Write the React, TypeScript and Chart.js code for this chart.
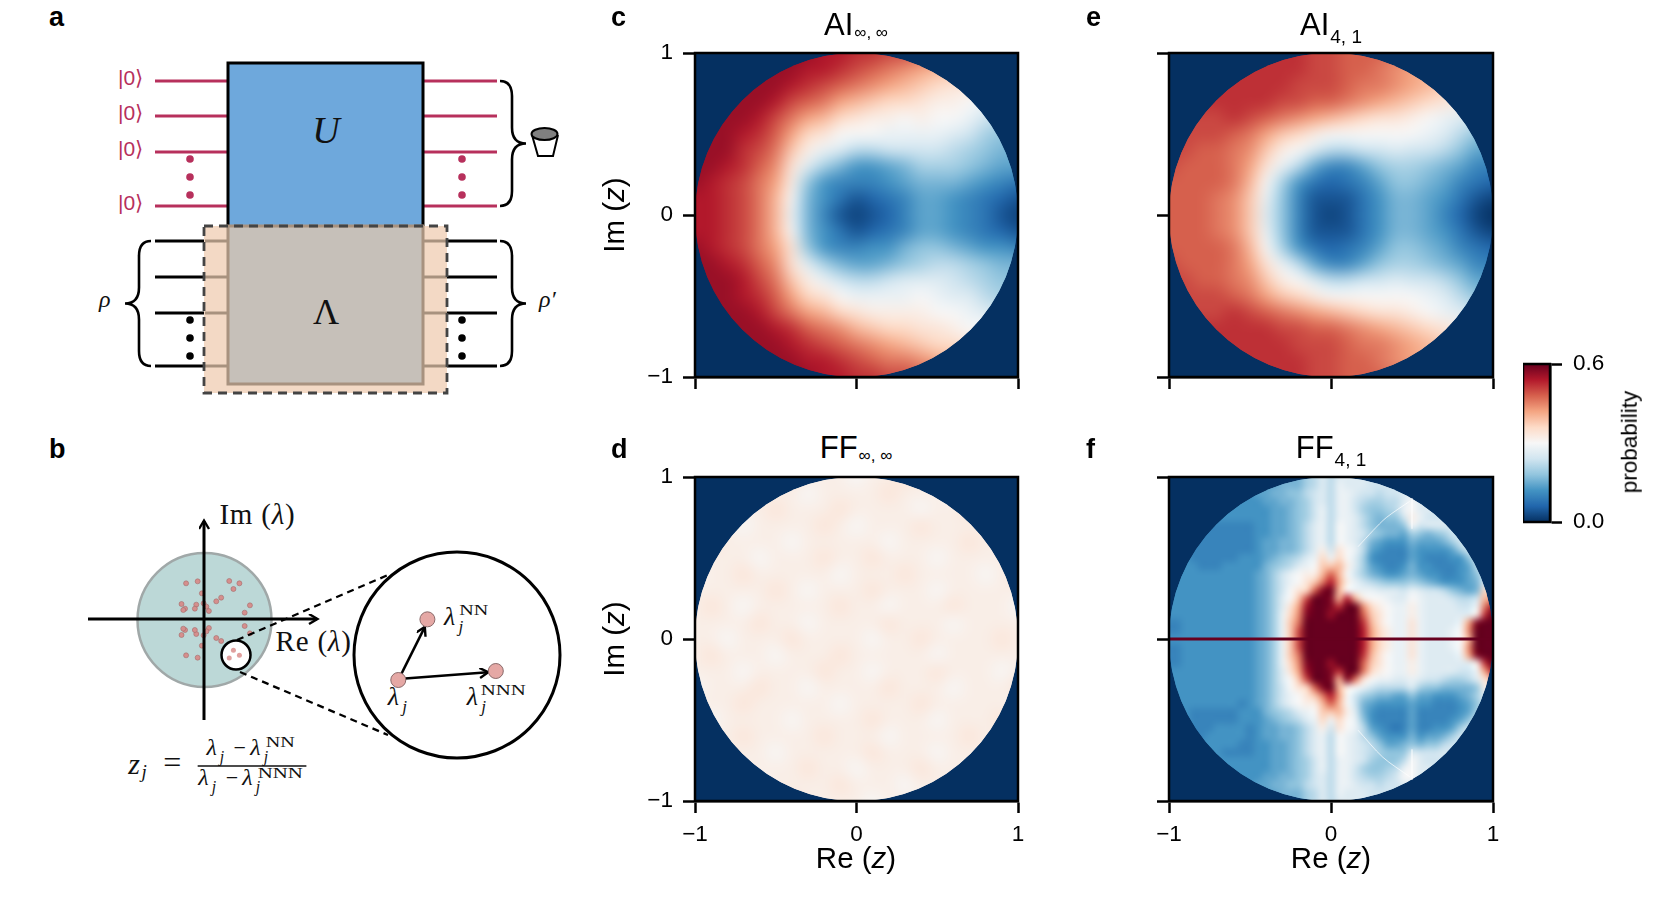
import React, { useEffect, useRef } from "react";
import { Chart, registerables } from "chart.js";

Chart.register(...registerables);

// Probability grids. Each char is a base-36 level, one level = 0.02.
// Rows run from Im(z)=+1 down to -1, columns from Re(z)=-1 to +1.
const levelSize = 0.02;

const aiInfInfRows = [
  "ssssssssrrqqppoonnmmm",
  "sssssssrrqponmlkkkkkk",
  "ssssssrqponmlkjihhhhh",
  "sssssrponlkjiihggfeee",
  "ssssrpnlkihggfgffecbb",
  "sssrqolihfffeeeedca99",
  "sssqpnjgedbbccccba988",
  "ssrqomhda86678aaa9877",
  "srqpnlg96555678887654",
  "rrqpnkf86423457765432",
  "rrqpnke85212357765421",
  "rrqpnkf86423457765432",
  "srqpnlh96556689987665",
  "ssrqomhda87789abba988",
  "sssrpnjgecbbcdddcba99",
  "sssrqolihfeeeefeddbaa",
  "ssssrpnlkihggggffedcc",
  "sssssrqonmkjiihhgffee",
  "ssssssrqponmlkjiihhhh",
  "sssssssrrqponnmlkkkkk",
  "ssssssssrrqqppoonnmmm",
];

const aiFourOneRows = [
  "qqqqqqqqqppooonnmmmmm",
  "qqqqqqqqqppoonmlkkkkk",
  "qqqqqqqqppponnmlkjiii",
  "qqqqqqqppoonmlkjihgff",
  "ppppqponmlkjihhgfedcc",
  "pppponljigffffffedb99",
  "ppoonmjgfdbbccdccb977",
  "pooonlheb75579aa98755",
  "oooonkfa6434579987543",
  "ooonmje95222468876421",
  "ooonmjd95212468875310",
  "ooonmje95222468876421",
  "oooonkfa6434579987543",
  "pooonlheb75579aa98755",
  "ppoonmjgfdbbccdccb977",
  "pppponljigffffffedb99",
  "ppppqponmlkjihhgfedcc",
  "qqqqqqqppoonmlkjihgff",
  "qqqqqqqqppponnmlkjiii",
  "qqqqqqqqqppoonmlkkkkk",
  "qqqqqqqqqppooonnmmmmm",
];

const ffInfInfRows = [
  "gggggghgggfgghgggfggg",
  "ggghgggfgggghgggfgggh",
  "gfggghggghggggfgghggg",
  "gggfgggghgfggghgggggf",
  "ghggggfgggggfgggghggg",
  "ggggfggghgghgggfggggg",
  "fgghgggggfggghggggfgh",
  "ggggghgfggghgggfggggg",
  "ghgfggggghggfggghgggf",
  "gggghggfgggghgggfgggg",
  "ggfggghggggfgghgggghg",
  "ghgggfggghgggggfggggg",
  "gggfgggghggfggghgggfg",
  "fggghggfgggghgggfgggh",
  "ggghgggggfgggghgggggf",
  "gfggggfgggghgggfggghg",
  "ggghgggghgggfgggghggg",
  "gggggfggggghgggfggggg",
  "gghgggghggfggghgggghg",
  "ggggfgggghgggfggggggg",
  "gggggghggggfgggghgggg",
];

const ffFourOneRows = [
  "7777777777 7777888abd bddddccccc ccccccccccc",
  "7777777777 7777888abd bedddccccc ccccccccccc",
  "6666666666 6778899bcd beedccbccd dcccccccccc",
  "6666666666 6677889acd beecbaabbd fddcccccccc",
  "6666666666 6667789ace beeca99abe fddcbbbbbbb",
  "6666666666 6667789ace beedb9899c gecccbbbbbb",
  "6666655555 5667789bde bfedb98889 fcdddcccccc",
  "6666555555 5667789bde bfedca9887 a989acccccc",
  "6665555555 5677889bde bfedb87666 87778accccc",
  "6665555555 5677889bdg chfeb76555 766667acccc",
  "6665555556 66789abdei eifda65555 76555669ccc",
  "6666555666 6689abdefj jkgda76556 8665556 7bdd",
  "6666666666 678acefggk okfca87667 87665567 9cc",
  "6666666666 678acefhjn rlgecba999 a987666 78dd",
  "6666666666 678acfhiot ukfeeedddc edccb9878ii",
  "6666666666 678adfjpuu tkrkgffedd fedddcbbckl",
  "6666666666 678adhlsuu tquumigfee geddddccens",
  "6666666666 678aeimtuu suuuojhfee geddddddgqu",
  "5566666666 678aejnuuu uuuuqkhfee heddddeltuu",
  "5566666666 678aejpuuu uuuurligee hedddefmuuu",
  "6666666666 678aejpuuu uuuurligee hedddefkuuu",
  "5566666666 678aejpuuu uuuurligee hedddefmuuu",
  "5566666666 678aejnuuu uuuuqkhfee heddddeltuu",
  "5566666666 678aeimtuu suuuojhfee geddddddgqu",
  "6666666666 678adhlsuu tquunigfee geddddccelr",
  "6666666666 678adfjpuu tktnhfeedd edccbaabdhk",
  "6666666666 678acfhiot ukgfecbbbb da998888 9gg",
  "6666666666 678acefhjn rlfca98877 97766678add",
  "6666666665 678acefggk okfc876666 766555679cc",
  "6665555556 6689abdefj jkgd865555 75555567acc",
  "6665555556 66789abdei eife965555 75555679ccc",
  "6665556666 5677889bdg chfeb76545 755667acccc",
  "6665566666 5677889bde bfedb97666 86778accccc",
  "6666666665 5667789bde bfedcb9778 9899bcccccc",
  "6666666555 5667789bde bfedcba999 dcccdcccccc",
  "6666666666 6667789ace beedca999b fdccccbbbbb",
  "6666666666 6667789ace beeca99abe fddcbbbbbbb",
  "6666666666 6677889acd beecbaabcf fddcccccccc",
  "6666666666 6778899bcd beedccbccd dcccccccccc",
  "7777777777 7777888abd bedddccccc ccccccccccc",
  "7777777777 7777888abd bddddccccc ccccccccccc",
];

// Thin features of panel f.
const realAxisRe = [-1, 1];
const realAxisIm = [0, 0];
const arcUpperRe = [0.167, 0.26, 0.342, 0.486];
const arcUpperIm = [0.57, 0.67, 0.75, 0.85];
const arcLowerRe = [0.167, 0.32, 0.486];
const arcLowerIm = [-0.563, -0.73, -0.85];
const halfLineUpperRe = [0.5, 0.5];
const halfLineUpperIm = [0.87, 0.68];
const halfLineLowerRe = [0.5, 0.5];
const halfLineLowerIm = [-0.68, -0.87];

const axisTicks = [-1, 0, 1];
const colorbarRange = [0, 0.6];
const cmapStops = ["#053061", "#2166ac", "#4393c3", "#92c5de", "#d1e5f0", "#f7f7f7", "#fddbc7", "#f4a582", "#d6604d", "#b2182b", "#67001f"];

const SANS = '"Liberation Sans", Arial, sans-serif';
const SERIF = '"Liberation Serif", serif';
const BG = "#053061";

const hexRgb = (h: string) => [1, 3, 5].map((i) => parseInt(h.slice(i, i + 2), 16));
const rgbOf = (v: number) => {
  const t = Math.max(0, Math.min(0.99999, v / colorbarRange[1])) * (cmapStops.length - 1);
  const i = Math.floor(t);
  const f = t - i;
  const a = hexRgb(cmapStops[i]);
  const b = hexRgb(cmapStops[i + 1]);
  return a.map((c, k) => Math.round(c + (b[k] - c) * f));
};

const gridPoints = (rows: string[]) => {
  const clean = rows.map((r) => r.replace(/ /g, ""));
  const n = clean.length;
  const step = 2 / (n - 1);
  return clean.flatMap((row, r) =>
    Array.from({ length: n }, (_, c) => ({
      x: -1 + c * step,
      y: 1 - r * step,
      v: parseInt(row[c] ?? row[row.length - 1], 36) * levelSize,
    }))
  );
};

const heatPlugin = {
  id: "heat",
  beforeDatasetsDraw(chart: any) {
    const { ctx, chartArea: a, scales } = chart;
    const pts = chart.data.datasets[0].data as { v: number }[];
    const n = Math.round(Math.sqrt(pts.length));
    const step = 2 / (n - 1);
    const off = document.createElement("canvas");
    off.width = n;
    off.height = n;
    const oc = off.getContext("2d")!;
    const img = oc.createImageData(n, n);
    pts.forEach((p, i) => {
      const [r, g, b] = rgbOf(p.v);
      img.data.set([r, g, b, 255], i * 4);
    });
    oc.putImageData(img, 0, 0);
    const x = scales.x;
    const y = scales.y;
    ctx.save();
    ctx.fillStyle = BG;
    ctx.fillRect(a.left, a.top, a.right - a.left, a.bottom - a.top);
    ctx.beginPath();
    ctx.ellipse(x.getPixelForValue(0), y.getPixelForValue(0), (a.right - a.left) / 2, (a.bottom - a.top) / 2, 0, 0, Math.PI * 2);
    ctx.clip();
    ctx.imageSmoothingEnabled = true;
    ctx.imageSmoothingQuality = "high";
    const x0 = x.getPixelForValue(-1 - step / 2);
    const x1 = x.getPixelForValue(1 + step / 2);
    const y0 = y.getPixelForValue(1 + step / 2);
    const y1 = y.getPixelForValue(-1 - step / 2);
    ctx.drawImage(off, x0, y0, x1 - x0, y1 - y0);
    ctx.filter = `blur(${n > 30 ? 2 : 6}px)`;
    ctx.drawImage(off, x0, y0, x1 - x0, y1 - y0);
    ctx.filter = "none";
    ctx.restore();
  },
};

const framePlugin = {
  id: "frame",
  afterDraw(chart: any) {
    const { ctx, chartArea: a } = chart;
    ctx.save();
    ctx.strokeStyle = "#000";
    ctx.lineWidth = 2.5;
    ctx.strokeRect(a.left, a.top, a.right - a.left, a.bottom - a.top);
    ctx.restore();
  },
};

const zip = (xs: number[], ys: number[]) => xs.map((x, i) => ({ x, y: ys[i] }));
const fmtTick = (v: any) => (Number(v) < 0 ? "\u2212" + Math.abs(Number(v)) : String(v));
const noPad = (s: any) => {
  s.paddingTop = 0;
  s.paddingBottom = 0;
  s.paddingLeft = 0;
  s.paddingRight = 0;
};

const LEFT = 70;
const TOP = 12;
const RIGHT = 20;
const BOTTOM = 48;

function HeatPanel({ plot, rows, showX, showY, lines = [] }: any) {
  const ref = useRef<HTMLCanvasElement>(null);
  useEffect(() => {
    const scaleBase = (showLabels: boolean, pad: number) => ({
      type: "linear",
      min: -1,
      max: 1,
      afterBuildTicks: (s: any) => {
        s.ticks = axisTicks.map((value) => ({ value }));
      },
      grid: { drawOnChartArea: false, drawTicks: true, tickLength: 12, tickWidth: 2.5, tickColor: "#000" },
      border: { display: true, color: "#000", width: 2.5 },
      ticks: {
        display: showLabels,
        padding: pad,
        minRotation: 0,
        maxRotation: 0,
        color: "#000",
        font: { family: SANS, size: 22.5 },
        callback: fmtTick,
      },
    });
    const chart = new Chart(ref.current!, {
      type: "scatter",
      data: {
        datasets: [
          { data: gridPoints(rows), pointRadius: 0, showLine: false },
          ...lines.map((l: any) => ({ data: l.data, showLine: true, pointRadius: 0, borderColor: l.color, borderWidth: l.width, tension: 0.3 })),
        ],
      },
      options: {
        animation: false,
        responsive: false,
        events: [],
        layout: { autoPadding: false, padding: { top: TOP, right: RIGHT, left: 0, bottom: 0 } },
        plugins: { legend: { display: false }, tooltip: { enabled: false }, title: { display: false } },
        scales: {
          x: { ...scaleBase(showX, 8), afterFit: (s: any) => { s.height = BOTTOM; noPad(s); } },
          y: { ...scaleBase(showY, 10), afterFit: (s: any) => { s.width = LEFT; noPad(s); } },
        },
      } as any,
      plugins: [heatPlugin, framePlugin],
    });
    return () => chart.destroy();
  }, []);
  return (
    <canvas
      ref={ref}
      width={LEFT + plot.w + RIGHT}
      height={TOP + plot.h + BOTTOM}
      style={{ position: "absolute", left: plot.x - LEFT, top: plot.y - TOP, display: "block" }}
    />
  );
}

function Colorbar() {
  const ref = useRef<HTMLCanvasElement>(null);
  useEffect(() => {
    const chart = new Chart(ref.current!, {
      type: "bar",
      data: {
        labels: ["probability"],
        datasets: [
          {
            data: [colorbarRange as any],
            barPercentage: 1,
            categoryPercentage: 1,
            borderWidth: 0,
            backgroundColor: (c: any) => {
              const a = c.chart.chartArea;
              if (!a) return cmapStops[5];
              const g = c.chart.ctx.createLinearGradient(0, a.bottom, 0, a.top);
              cmapStops.forEach((s, i) => g.addColorStop(i / (cmapStops.length - 1), s));
              return g;
            },
          },
        ],
      },
      options: {
        animation: false,
        responsive: false,
        events: [],
        layout: { autoPadding: false, padding: { top: 14, bottom: 14, left: 0, right: 0 } },
        plugins: { legend: { display: false }, tooltip: { enabled: false } },
        scales: {
          x: { display: false },
          y: {
            position: "right",
            min: colorbarRange[0],
            max: colorbarRange[1],
            afterBuildTicks: (s: any) => {
              s.ticks = colorbarRange.map((value) => ({ value }));
            },
            afterFit: (s: any) => { s.width = 80; noPad(s); },
            grid: { drawOnChartArea: false, tickLength: 12, tickWidth: 2.5, tickColor: "#000" },
            border: { display: true, color: "#000", width: 2.5 },
            ticks: { padding: 11, color: "#000", font: { family: SANS, size: 22.5 }, callback: (v: any) => Number(v).toFixed(1) },
          },
        },
      } as any,
      plugins: [framePlugin],
    });
    return () => chart.destroy();
  }, []);
  return <canvas ref={ref} width={107} height={186} style={{ position: "absolute", left: 1523, top: 350, display: "block" }} />;
}

const Txt = ({ x, y, size = 28, weight = "normal", children, center = false, rotate = false }: any) => (
  <div
    style={{
      position: "absolute",
      left: x,
      top: y,
      fontFamily: SANS,
      fontSize: size,
      fontWeight: weight,
      lineHeight: 1,
      whiteSpace: "nowrap",
      color: "#000",
      transform: rotate ? "translate(-50%,-50%) rotate(-90deg)" : center ? "translateX(-50%)" : undefined,
    }}
  >
    {children}
  </div>
);

const Title = ({ cx, y, main, sub, digits }: any) => (
  <Txt x={cx} y={y} size={31} center>
    {main}
    <span style={{ fontSize: digits ? 19 : 17, position: "relative", top: digits ? 8 : 3, marginLeft: 1 }}>{sub}</span>
  </Txt>
);
const ReLabel = ({ cx, y }: any) => (
  <Txt x={cx} y={y} size={29.5} center>
    Re (<i>z</i>)
  </Txt>
);
const ImLabel = ({ x, cy }: any) => (
  <Txt x={x} y={cy} size={29.5} rotate>
    Im (<i>z</i>)
  </Txt>
);

const brace = (x: number, y1: number, y2: number, dir: number) => {
  const xm = x + dir * 12;
  const xt = x + dir * 26;
  const tip = (y1 + y2) / 2;
  return `M${x} ${y1} Q${xm} ${y1} ${xm} ${y1 + 15} L${xm} ${tip - 16} Q${xm} ${tip} ${xt} ${tip} Q${xm} ${tip} ${xm} ${tip + 16} L${xm} ${y2 - 15} Q${xm} ${y2} ${x} ${y2}`;
};

const bx = (p: number) => 30 + p / 2.851;
const by = (p: number) => 420 + p / 3;
const RED = "#b7305c";
const eigenDots = [
  [445, 490], [478, 484], [490, 520], [568, 483], [597, 490], [580, 507], [545, 533], [531, 544], [627, 556], [612, 578],
  [432, 552], [442, 566], [437, 570], [474, 554], [470, 566], [495, 550], [503, 560], [510, 573], [612, 618], [627, 640],
  [545, 663], [531, 654], [510, 624], [503, 634], [495, 646], [474, 642], [470, 630], [442, 630], [437, 626], [432, 645],
  [490, 677], [445, 706], [478, 713],
];
const insetDots = [[580, 691], [597, 706], [568, 714]];

const Lam = ({ x, y, sup, size = 26, supDx = 15.5, supDy = -10 }: any) => (
  <g fontFamily={SERIF} fill="#111">
    <text x={x} y={y} fontSize={size} fontStyle="italic">λ</text>
    <text x={x + size * 0.56} y={y + size * 0.28} fontSize={size * 0.66} fontStyle="italic">j</text>
    {sup && (
      <text x={x + supDx} y={y + supDy} fontSize={15} textLength={sup.length === 2 ? 29 : 45} lengthAdjust="spacingAndGlyphs">
        {sup}
      </text>
    )}
  </g>
);

function Schematic() {
  const redY = [81, 116, 152, 206];
  const blackY = [241, 277, 313, 366];
  const dotY = [0, 18, 36];
  return (
    <svg width={1661} height={905} style={{ position: "absolute", left: 0, top: 0 }}>
      <defs>
        <marker id="arr" markerWidth="12" markerHeight="12" refX="9" refY="5" orient="auto" markerUnits="userSpaceOnUse">
          <path d="M1 0 L9.5 5 L1 10" fill="none" stroke="#000" strokeWidth="2.4" />
        </marker>
      </defs>
      {/* panel a */}
      {redY.map((y) => (
        <g key={y} stroke={RED} strokeWidth={3}>
          <line x1={155} x2={228} y1={y} y2={y} />
          <line x1={424} x2={497} y1={y} y2={y} />
        </g>
      ))}
      {redY.map((y) => (
        <text key={y} x={118} y={y + 4} fontFamily={SANS} fontSize={21} fill={RED}>|0⟩</text>
      ))}
      {dotY.map((d) => (
        <g key={d} fill={RED}>
          <circle cx={190} cy={159 + d} r={3.8} />
          <circle cx={462} cy={159 + d} r={3.8} />
        </g>
      ))}
      {blackY.map((y) => (
        <g key={y} stroke="#000" strokeWidth={3}>
          <line x1={155} x2={205} y1={y} y2={y} />
          <line x1={447} x2={497} y1={y} y2={y} />
        </g>
      ))}
      {dotY.map((d) => (
        <g key={d} fill="#000">
          <circle cx={190} cy={320 + d} r={3.8} />
          <circle cx={462} cy={320 + d} r={3.8} />
        </g>
      ))}
      <rect x={228} y={63} width={195} height={164} fill="#6ea8dc" stroke="#000" strokeWidth={3} />
      <rect x={204} y={226} width={243} height={167} fill="#f3d9c5" />
      <rect x={228} y={226} width={195} height={158} fill="#c6c0b9" stroke="#a8927f" strokeWidth={3} />
      {blackY.map((y) => (
        <g key={y} stroke="#a8927f" strokeWidth={3}>
          <line x1={205} x2={228} y1={y} y2={y} />
          <line x1={424} x2={447} y1={y} y2={y} />
        </g>
      ))}
      <rect x={204} y={226} width={243} height={167} fill="none" stroke="#444" strokeWidth={2.8} strokeDasharray="9 6" />
      <text x={326} y={143} textAnchor="middle" fontFamily={SERIF} fontStyle="italic" fontSize={38} fill="#111">U</text>
      <text x={326} y={324} textAnchor="middle" fontFamily={SERIF} fontSize={36} fill="#111">Λ</text>
      <g fill="none" stroke="#000" strokeWidth={2.6}>
        <path d={brace(500, 81, 206, 1)} />
        <path d={brace(500, 241, 366, 1)} />
        <path d={brace(151, 241, 366, -1)} />
      </g>
      <path d="M532 135 L538 156 L553 156 L558 135" fill="#fff" stroke="#000" strokeWidth={2} />
      <ellipse cx={544.5} cy={134} rx={13} ry={6} fill="#808080" stroke="#000" strokeWidth={2} />
      <text x={99} y={307} fontFamily={SERIF} fontStyle="italic" fontSize={24} fill="#111">ρ</text>
      <text x={539} y={307} fontFamily={SERIF} fontStyle="italic" fontSize={24} fill="#111">ρ′</text>

      {/* panel b */}
      <circle cx={204.5} cy={620} r={67} fill="#bcd8d7" stroke="#a0a8a8" strokeWidth={2.5} />
      {eigenDots.map(([p, q], i) => (
        <circle key={i} cx={bx(p)} cy={by(q)} r={2.5} fill="#d58f8d" stroke="#a26c6c" strokeWidth={0.6} />
      ))}
      <line x1={88} x2={317} y1={619} y2={619} stroke="#000" strokeWidth={3} markerEnd="url(#arr)" />
      <line x1={204} x2={204} y1={720} y2={521} stroke="#000" strokeWidth={3} markerEnd="url(#arr)" />
      <circle cx={236} cy={655} r={14.5} fill="#fff" stroke="#000" strokeWidth={2.5} />
      {insetDots.map(([p, q], i) => (
        <circle key={i} cx={bx(p)} cy={by(q)} r={2.5} fill="#e0a09e" />
      ))}
      <line x1={237} y1={640} x2={388} y2={575} stroke="#000" strokeWidth={2.3} strokeDasharray="7 5" />
      <line x1={240} y1={672} x2={388} y2={735} stroke="#000" strokeWidth={2.3} strokeDasharray="7 5" />
      <circle cx={457} cy={655} r={103} fill="none" stroke="#000" strokeWidth={3} />
      <line x1={bx(1055)} y1={by(770)} x2={bx(1125)} y2={by(622)} stroke="#000" strokeWidth={2.5} markerEnd="url(#arr)" />
      <line x1={bx(1060)} y1={by(776)} x2={bx(1305)} y2={by(757)} stroke="#000" strokeWidth={2.5} markerEnd="url(#arr)" />
      <g fill="#e5a8a5" stroke="#8a6a6a" strokeWidth={1}>
        <circle cx={bx(1050)} cy={by(780)} r={7.5} />
        <circle cx={bx(1133)} cy={by(598)} r={7.5} />
        <circle cx={bx(1328)} cy={by(753)} r={7.5} />
      </g>
      <Lam x={bx(1180)} y={by(615)} sup="NN" />
      <Lam x={bx(1020)} y={by(855)} />
      <Lam x={bx(1245)} y={by(855)} sup="NNN" supDx={14} />
      <text x={bx(540)} y={by(312)} fontFamily={SERIF} fontSize={29} letterSpacing={0.8} fill="#111">Im (<tspan fontStyle="italic">λ</tspan>)</text>
      <text x={bx(700)} y={by(692)} fontFamily={SERIF} fontSize={29} letterSpacing={0.8} fill="#111">Re (<tspan fontStyle="italic">λ</tspan>)</text>
      <text x={bx(280)} y={by(1062)} fontFamily={SERIF} fontStyle="italic" fontSize={30} fill="#111">z</text>
      <text x={bx(318)} y={by(1075)} fontFamily={SERIF} fontStyle="italic" fontSize={19} fill="#111">j</text>
      <text x={bx(380)} y={by(1060)} fontFamily={SERIF} fontSize={32} fill="#111">=</text>
      <line x1={bx(478)} x2={bx(788)} y1={by(1038)} y2={by(1038)} stroke="#111" strokeWidth={1.3} />
      <Lam x={bx(503)} y={by(1005)} size={24} />
      <text x={bx(580)} y={by(1005)} fontFamily={SERIF} fontSize={22} fill="#111">−</text>
      <Lam x={bx(628)} y={by(1005)} sup="NN" size={24} supDy={-8} />
      <Lam x={bx(480)} y={by(1095)} size={24} />
      <text x={bx(558)} y={by(1095)} fontFamily={SERIF} fontSize={22} fill="#111">−</text>
      <Lam x={bx(605)} y={by(1095)} sup="NNN" size={24} supDy={-7} />
    </svg>
  );
}

const PLOTS = {
  c: { x: 695, y: 53, w: 323, h: 324 },
  d: { x: 695, y: 477, w: 323, h: 324 },
  e: { x: 1169, y: 53, w: 324, h: 324 },
  f: { x: 1169, y: 477, w: 324, h: 324 },
};

const fLines = [
  { data: zip(realAxisRe, realAxisIm), color: "#67001f", width: 3 },
  { data: zip(arcUpperRe, arcUpperIm), color: "rgba(255,255,255,0.7)", width: 1 },
  { data: zip(arcLowerRe, arcLowerIm), color: "rgba(255,255,255,0.7)", width: 1 },
  { data: zip(halfLineUpperRe, halfLineUpperIm), color: "rgba(255,255,255,0.8)", width: 1.2 },
  { data: zip(halfLineLowerRe, halfLineLowerIm), color: "rgba(255,255,255,0.8)", width: 1.2 },
];

export default function App() {
  return (
    <div style={{ position: "absolute", left: 0, top: 0, width: 1661, height: 905, overflow: "hidden", background: "#fff" }}>
      <Schematic />
      <HeatPanel plot={PLOTS.c} rows={aiInfInfRows} showX={false} showY={true} />
      <HeatPanel plot={PLOTS.d} rows={ffInfInfRows} showX={true} showY={true} />
      <HeatPanel plot={PLOTS.e} rows={aiFourOneRows} showX={false} showY={false} />
      <HeatPanel plot={PLOTS.f} rows={ffFourOneRows} showX={true} showY={false} lines={fLines} />
      <Colorbar />
      <Title cx={856} y={9} main="AI" sub="∞, ∞" />
      <Title cx={856} y={432} main="FF" sub="∞, ∞" />
      <Title cx={1331} y={9} main="AI" sub="4, 1" digits />
      <Title cx={1331} y={432} main="FF" sub="4, 1" digits />
      <ReLabel cx={856} y={843} />
      <ReLabel cx={1331} y={843} />
      <ImLabel x={614} cy={215} />
      <ImLabel x={614} cy={639} />
      <Txt x={1630} y={442} size={22.5} rotate>probability</Txt>
      <Txt x={49} y={4} size={27} weight="bold">a</Txt>
      <Txt x={49} y={436} size={27} weight="bold">b</Txt>
      <Txt x={611} y={4} size={27} weight="bold">c</Txt>
      <Txt x={611} y={436} size={27} weight="bold">d</Txt>
      <Txt x={1086} y={4} size={27} weight="bold">e</Txt>
      <Txt x={1086} y={436} size={27} weight="bold">f</Txt>
    </div>
  );
}
